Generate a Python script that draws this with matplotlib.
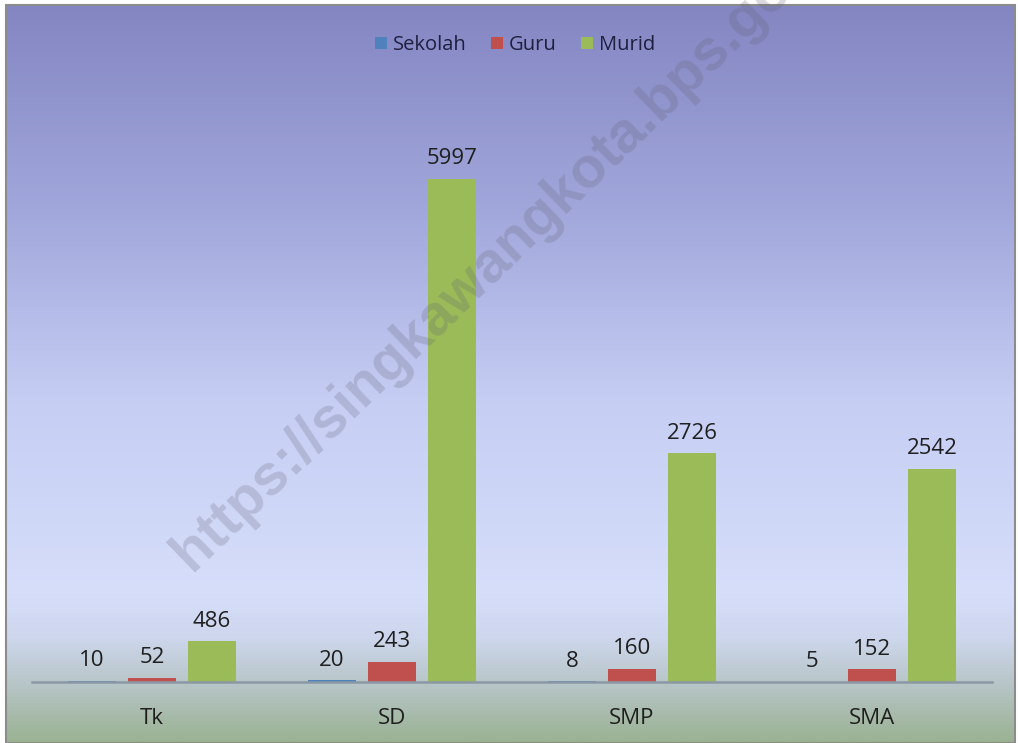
import numpy as np
import matplotlib.pyplot as plt
from matplotlib.colors import LinearSegmentedColormap
from matplotlib.patches import Rectangle

plt.rcParams['font.family'] = ['Open Sans', 'DejaVu Sans']

categories = ["Tk", "SD", "SMP", "SMA"]
sekolah = [10, 20, 8, 5]
guru = [52, 243, 160, 152]
murid = [486, 5997, 2726, 2542]

series = [("Sekolah", sekolah, "#4F81BD"),
          ("Guru", guru, "#C0504D"),
          ("Murid", murid, "#9BBB59")]

W, H = 1018, 743
fig = plt.figure(figsize=(W / 100, H / 100), dpi=100, facecolor="white")

# gradient background of the chart area
bg = fig.add_axes([6 / W, 0, (1015 - 6) / W, (H - 5) / H], zorder=0)
stops = [(0.0, "#8486C2"), (0.27, "#A0A6DA"), (0.54, "#C6CEF4"),
         (0.80, "#D6DEFA"), (0.86, "#CDD6EC"), (0.92, "#B8C6C8"),
         (1.0, "#9AB292")]
cmap = LinearSegmentedColormap.from_list("bg", stops)
grad = np.linspace(0, 1, 512).reshape(-1, 1)
bg.imshow(grad, cmap=cmap, aspect="auto", extent=[0, 1, 0, 1], origin="upper")
bg.set_xlim(0, 1)
bg.set_ylim(0, 1)
bg.axis("off")
bg.add_patch(Rectangle((0, 0), 1, 1, transform=bg.transAxes, fill=False,
                       edgecolor="#8C8C8C", linewidth=1.5, clip_on=False))

ax = fig.add_axes([32 / W, (H - 682) / H, 960 / W, (682 - 95) / H], zorder=1)
ax.patch.set_alpha(0)

x = np.arange(len(categories))
width = 0.2
offsets = [-0.25, 0, 0.25]
for (name, vals, color), off in zip(series, offsets):
    bars = ax.bar(x + off, vals, width, color=color, label=name)
    for b, v in zip(bars, vals):
        ax.annotate(str(v), (b.get_x() + b.get_width() / 2, v),
                    xytext=(0, 7), textcoords="offset points",
                    ha="center", va="bottom", fontsize=16, color="#1F1F1F")

ax.set_xlim(-0.5, 3.5)
ax.set_ylim(0, 7000)
ax.set_yticks([])
ax.set_xticks(x)
ax.set_xticklabels(categories, fontsize=16, color="#1F1F1F")
ax.tick_params(axis="x", length=0, pad=19)
for s in ["top", "right", "left"]:
    ax.spines[s].set_visible(False)
ax.spines["bottom"].set_color("#8A98A6")
ax.spines["bottom"].set_linewidth(1.8)

leg = fig.legend(loc="center", bbox_to_anchor=(515 / W, 1 - 45 / H), ncol=3,
                 frameon=False, fontsize=14.5, handlelength=0.6, handleheight=0.6,
                 handletextpad=0.3, columnspacing=1.2)
for t in leg.get_texts():
    t.set_color("#1F1F3F")

# watermark, runs off the top edge like in the source image
fig.text(192 / W, 1 - 572 / H, "https://singkawangkota.bps.go.id",
         rotation=44, rotation_mode="anchor", ha="left", va="baseline",
         fontsize=41, fontweight="bold", family="Liberation Sans",
         color="#606070", alpha=0.23, zorder=5)

fig.savefig("out.png", dpi=100, facecolor=fig.get_facecolor())
